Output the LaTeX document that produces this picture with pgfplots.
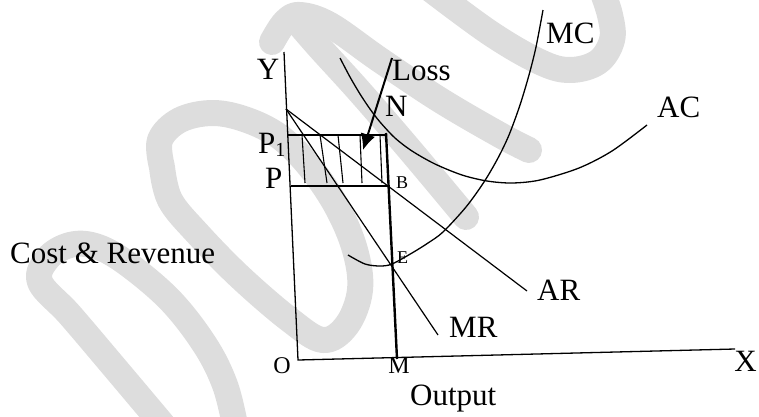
\documentclass[border=0pt]{standalone}
\usepackage{pgfplots}
\pgfplotsset{compat=1.18}
\usepackage{fontspec}
\setmainfont{Liberation Serif}
\usetikzlibrary{arrows.meta}
\definecolor{wm}{RGB}{221,221,221}
\begin{document}
\begin{tikzpicture}
\begin{axis}[scale only axis, width=759pt, height=416pt,
  xmin=0, xmax=759, ymin=0, ymax=416, y dir=reverse,
  hide axis, clip=false]
% watermark strokes
\addplot[wm, line width=26pt, line cap=round, line join=round, smooth, tension=0.6] coordinates
  {(163,425) (115,368) (70,315) (40,282) (48,258) (70,245) (95,246) (125,262) (170,300) (205,345) (225,385) (235,425)};
\addplot[wm, line width=26pt, line cap=round, line join=round, smooth, tension=0.6] coordinates
  {(162,167) (160,140) (180,120) (213,113) (247,120) (280,137) (310,167) (337,207) (355,250) (360,290) (347,325) (323,340) (290,320) (240,277) (197,233) (170,200) (162,167)};
\addplot[wm, line width=26pt, line cap=round, line join=round, smooth, tension=0.6] coordinates
  {(466,217) (410,150) (360,92) (320,48) (300,25)};
\addplot[wm, line width=26pt, line cap=round, line join=round, smooth, tension=0.6] coordinates
  {(272,42) (285,22) (300,15) (330,25) (380,60) (440,100) (500,135) (529,150)};
\addplot[wm, line width=26pt, line cap=round, line join=round, smooth, tension=0.6] coordinates
  {(425,-15) (490,33) (540,62) (570,70) (598,62) (612,40) (610,15) (600,-15)};
% axes
\addplot[black, line width=1.3pt] coordinates {(284,52) (298,360) (735,349)};
% AR and MR
\addplot[black, line width=1.2pt] coordinates {(286,109) (527,291)};
\addplot[black, line width=1.2pt] coordinates {(286,109) (438,335)};
% MC and AC
\addplot[black, line width=1.3pt, smooth, tension=0.5] coordinates
  {(348,255) (365,264) (380,266) (392,264) (412,253) (428,243) (443,232) (466,207) (484,182) (498,158) (509,135) (520,105) (529,75) (536,47) (543,10)};
\addplot[black, line width=1.3pt, smooth, tension=0.5] coordinates
  {(340,58) (350,77) (360,94) (370,109) (380,122) (395,138) (412,151) (435,164) (462,175) (487,181) (512,183) (540,180) (579,168) (612,151) (647,125)};
% loss rectangle and BM line
\addplot[black, line width=2.2pt] coordinates {(288,135) (385,135)};
\addplot[black, line width=2.2pt] coordinates {(291,186) (388,186)};
\addplot[black, line width=2.4pt] coordinates {(386,133) (397,359)};
% hatching
\addplot[black, line width=1.1pt] coordinates {(302,135) (305,183)};
\addplot[black, line width=1.1pt] coordinates {(320,135) (327,183)};
\addplot[black, line width=1.1pt] coordinates {(338,135) (343,183)};
\addplot[black, line width=1.1pt] coordinates {(360,135) (362,183)};
\addplot[black, line width=1.1pt] coordinates {(380,135) (382,183)};
% loss arrow
\addplot[black, line width=2pt, -{Latex[length=16pt,width=15pt]}] coordinates {(392,58) (363,150)};
% labels
\begin{scope}[every node/.style={inner sep=0pt, font=\fontsize{31}{36}\selectfont}]
\node[anchor=base] at (axis cs:268,79) {Y};
\node[anchor=base west] at (axis cs:258,153) {P\raisebox{-3pt}{\fontsize{20}{24}\selectfont 1}};
\node[anchor=base west] at (axis cs:265,188) {P};
\node[anchor=base west] at (axis cs:10,263) {Cost \& Revenue};
\node[anchor=base west] at (axis cs:392,80) {Loss};
\node[anchor=base west] at (axis cs:385,116) {N};
\node[anchor=base west] at (axis cs:546,43) {MC};
\node[anchor=base west] at (axis cs:657,117) {AC};
\node[anchor=base west] at (axis cs:537,300) {AR};
\node[anchor=base west] at (axis cs:449,337) {MR};
\node[anchor=base west] at (axis cs:410,405) {Output};
\node[anchor=base east] at (axis cs:757,371) {X};
\node[anchor=base, font=\fontsize{24}{28}\selectfont] at (axis cs:282,373) {O};
\node[anchor=base, font=\fontsize{24}{28}\selectfont] at (axis cs:399,373) {M};
\node[anchor=base west, font=\fontsize{18}{22}\selectfont] at (axis cs:396,188) {B};
\node[anchor=base west, font=\fontsize{18}{22}\selectfont] at (axis cs:397,263) {E};
\end{scope}
\end{axis}
\pgfresetboundingbox
\path (current axis.south west) rectangle (current axis.north east);
\end{tikzpicture}
\end{document}
